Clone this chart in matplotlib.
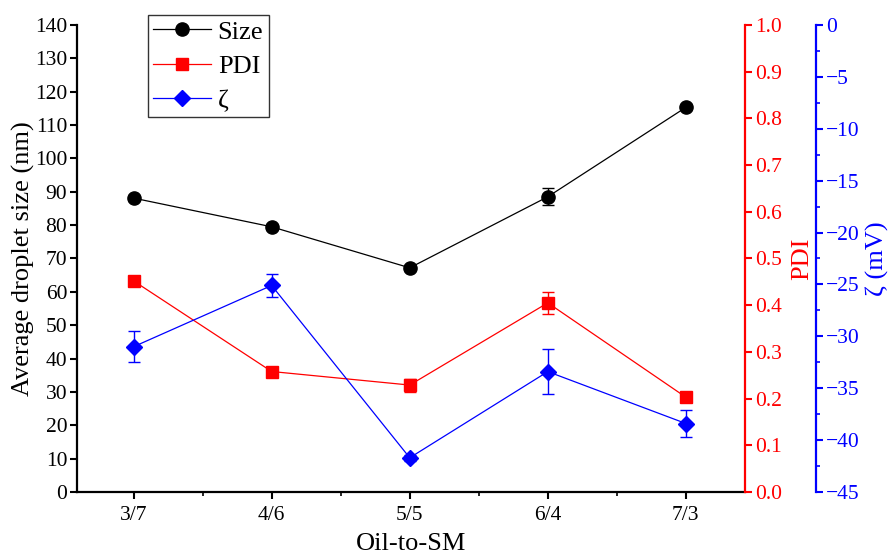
import matplotlib
matplotlib.use("Agg")
import matplotlib.pyplot as plt
from matplotlib.ticker import MultipleLocator, FormatStrFormatter
from matplotlib.lines import Line2D

plt.rcParams['font.family'] = ['Liberation Serif', 'DejaVu Serif']

categories = ["3/7", "4/6", "5/5", "6/4", "7/3"]
size_vals = [88.1, 79.5, 67.2, 88.5, 115.3]
size_err = [0.6, 0.6, 0.5, 2.6, 0.6]
pdi_vals = [0.452, 0.258, 0.229, 0.405, 0.203]
pdi_err = [0.004, 0.004, 0.014, 0.024, 0.011]
zeta_vals = [-31.0, -25.1, -41.7, -33.4, -38.4]
zeta_err = [1.5, 1.15, 0.3, 2.2, 1.3]

x = list(range(len(categories)))

fig = plt.figure(figsize=(8.91, 5.55), dpi=100)
ax = fig.add_axes([0.0864, 0.1135, 0.750, 0.8415])
ax2 = ax.twinx()
ax3 = ax.twinx()

lw = 0.9
ax.errorbar(x, size_vals, yerr=size_err, color='black', marker='o', markersize=9.5,
            lw=lw, elinewidth=1, capsize=4, capthick=1, zorder=3)
ax2.errorbar(x, pdi_vals, yerr=pdi_err, color='#ff0000', marker='s', markersize=8,
             lw=lw, elinewidth=1, capsize=4, capthick=1)
ax3.errorbar(x, zeta_vals, yerr=zeta_err, color='#0000ff', marker='D', markersize=8,
             lw=lw, elinewidth=1, capsize=4, capthick=1)

ax.set_xlim(-0.41, 4.43)
ax.set_ylim(0, 140)
ax2.set_ylim(0, 1.0)
ax3.set_ylim(-45, 0)

ax.set_xticks(x)
ax.set_xticklabels(categories)
ax.xaxis.set_minor_locator(MultipleLocator(0.5))
ax.yaxis.set_major_locator(MultipleLocator(10))
ax2.yaxis.set_major_locator(MultipleLocator(0.1))
ax2.yaxis.set_major_formatter(FormatStrFormatter('%.1f'))
ax3.yaxis.set_major_locator(MultipleLocator(5))
ax3.yaxis.set_minor_locator(MultipleLocator(2.5))

for a in (ax, ax2, ax3):
    a.spines['top'].set_visible(False)

tls = 15.5
ax.spines['right'].set_visible(False)
ax.spines['left'].set_linewidth(1.6)
ax.spines['bottom'].set_linewidth(1.6)
ax.tick_params(axis='both', which='major', labelsize=tls, width=1.5, length=5, direction='out', pad=2)
ax.tick_params(axis='x', which='minor', width=1.2, length=3, direction='out')
ax.tick_params(axis='x', which='major', pad=5)

ax2.spines['left'].set_visible(False)
ax2.spines['bottom'].set_visible(False)
ax2.spines['right'].set_color('#ff0000')
ax2.spines['right'].set_linewidth(1.6)
ax2.tick_params(axis='y', colors='#ff0000', labelsize=tls, width=1.5, length=5, pad=2)

ax3.spines['left'].set_visible(False)
ax3.spines['bottom'].set_visible(False)
ax3.spines['right'].set_position(('outward', 51))
ax3.spines['right'].set_color('#0000ff')
ax3.spines['right'].set_linewidth(1.6)
ax3.tick_params(axis='y', which='major', colors='#0000ff', labelsize=tls, width=1.5, length=5, pad=2)
ax3.tick_params(axis='y', which='minor', colors='#0000ff', width=1.2, length=3)
ax3.set_yticks(ax3.get_yticks())
ax3.set_yticklabels([f"\u2212{abs(int(v))}" if v < 0 else f"{int(v)}" for v in ax3.get_yticks()])
ax3.set_ylim(-45, 0)

ax.set_xlabel("Oil-to-SM", fontsize=19)
ax.xaxis.set_label_coords(0.5, -0.088)
ax.set_ylabel("Average droplet size (nm)", fontsize=19)
ax.yaxis.set_label_coords(-0.063, 0.5)
ax2.set_ylabel("PDI", fontsize=19, color='#ff0000')
ax2.yaxis.set_label_coords(1.069, 0.5)
ax3.set_ylabel("ζ (mV)", fontsize=19, color='#0000ff')
ax3.yaxis.set_label_coords(1.18, 0.5)

handles = [
    Line2D([], [], color='black', marker='o', markersize=9.5, lw=lw),
    Line2D([], [], color='#ff0000', marker='s', markersize=8, lw=lw),
    Line2D([], [], color='#0000ff', marker='D', markersize=8, lw=lw),
]
leg = ax.legend(handles, ['Size', 'PDI', 'ζ'], loc='upper left',
                bbox_to_anchor=(0.106, 1.0214), fontsize=19, frameon=True, fancybox=False,
                edgecolor='black', handlelength=2.2, borderpad=0.2, labelspacing=0.4,
                handletextpad=0.25, borderaxespad=0)
leg.get_frame().set_linewidth(1.0)

fig.savefig("out.png", dpi=100)
